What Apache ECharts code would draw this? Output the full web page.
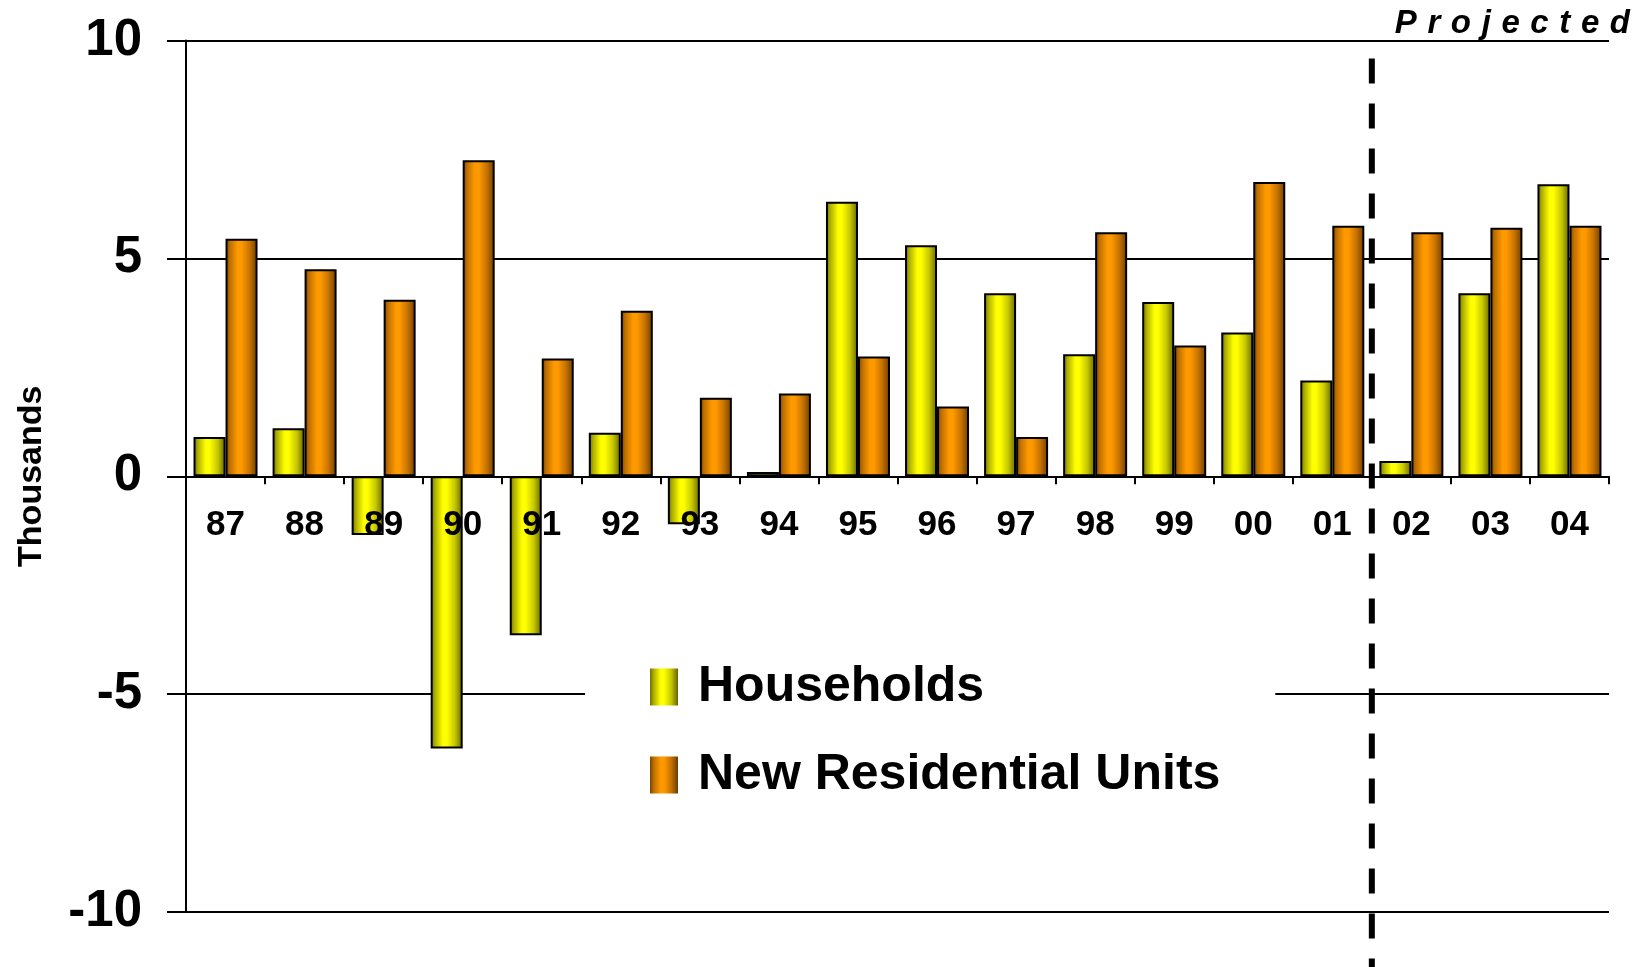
<!DOCTYPE html>
<html>
<head>
<meta charset="utf-8">
<title>Households vs New Residential Units</title>
<script src="https://cdn.jsdelivr.net/npm/echarts@6/dist/echarts.min.js"></script>
<style>
  html, body { margin: 0; padding: 0; background: #fff; }
  #chart { width: 1648px; height: 967px; }
</style>
</head>
<body>
<div id="chart"></div>
<script>
// Annual change, thousands
const years = ['87', '88', '89', '90', '91', '92', '93', '94', '95', '96', '97', '98', '99', '00', '01', '02', '03', '04'];
const households = [0.9, 1.1, -1.35, -6.25, -3.65, 1.0, -1.1, 0.1, 6.3, 5.3, 4.2, 2.8, 4.0, 3.3, 2.2, 0.35, 4.2, 6.7];
const newUnits = [5.45, 4.75, 4.05, 7.25, 2.7, 3.8, 1.8, 1.9, 2.75, 1.6, 0.9, 5.6, 3.0, 6.75, 5.75, 5.6, 5.7, 5.75];
const yTicks = { min: -10, max: 10, interval: 5 };
// First projected year: the divider sits on the boundary just before it
const firstProjected = '02';

const FONT = '"Liberation Sans", Arial, Helvetica, sans-serif';

function barGradient(dark, mid, bright, mid2, dark2) {
  return {
    type: 'linear', x: 0, y: 0, x2: 1, y2: 0,
    colorStops: [
      { offset: 0, color: dark },
      { offset: 0.14, color: mid },
      { offset: 0.38, color: bright },
      { offset: 0.5, color: bright },
      { offset: 0.75, color: mid2 },
      { offset: 1, color: dark2 }
    ]
  };
}
const yellowFill = barGradient('#6e6e00', '#b0b000', '#ffff00', '#c8c800', '#646400');
const orangeFill = barGradient('#7a4400', '#bf7000', '#ff9900', '#c77300', '#6b3c00');

// Widely spaced heading made of rich-text fragments
const word = 'Projected';
const projectedText = word.split('').map(c => '{l|' + c + '}').join('{g| }');

const chart = echarts.init(document.getElementById('chart'), null, { renderer: 'canvas' });

chart.setOption({
  backgroundColor: '#ffffff',
  animation: false,
  textStyle: { fontFamily: FONT },
  grid: { left: 186, right: 39, top: 40.5, bottom: 55, containLabel: false, outerBoundsMode: 'none' },
  legend: {
    orient: 'vertical',
    left: 585,
    top: 642,
    padding: [20, 55, 20, 65],
    backgroundColor: '#ffffff',
    icon: 'rect',
    itemWidth: 28,
    itemHeight: 37,
    itemGap: 38,
    itemStyle: { borderWidth: 0 },
    textStyle: {
      fontFamily: FONT, fontSize: 50, fontWeight: 'bold', color: '#000',
      lineHeight: 50, padding: [0, 0, 0, 15]
    },
    data: ['Households', 'New Residential Units']
  },
  xAxis: {
    type: 'category',
    data: years,
    z: 5,
    axisLine: { onZero: false, lineStyle: { color: '#000', width: 2 } },
    axisTick: { show: true, length: 8, inside: false, lineStyle: { color: '#000', width: 2 } },
    axisLabel: {
      margin: 32, fontFamily: FONT, fontSize: 35, fontWeight: 'bold', color: '#000', interval: 0
    },
    splitLine: { show: false }
  },
  yAxis: {
    type: 'value',
    min: yTicks.min,
    max: yTicks.max,
    interval: yTicks.interval,
    name: 'Thousands',
    nameLocation: 'middle',
    nameRotate: 90,
    nameGap: 137,
    nameTextStyle: { fontFamily: FONT, fontSize: 34, fontWeight: 'bold', color: '#000' },
    axisLine: { show: true, lineStyle: { color: '#000', width: 2 } },
    axisTick: { show: true, length: 19, inside: false, lineStyle: { color: '#000', width: 2 } },
    axisLabel: { margin: 44, fontFamily: FONT, fontSize: 51, fontWeight: 'bold', color: '#000' },
    splitLine: { show: true, lineStyle: { color: '#000', width: 2 } }
  },
  series: [
    {
      name: 'Households',
      type: 'bar',
      data: households,
      barWidth: 32,
      barGap: '0%',
      itemStyle: { color: yellowFill, borderColor: '#000', borderWidth: 2 }
    },
    {
      name: 'New Residential Units',
      type: 'bar',
      data: newUnits,
      barWidth: 32,
      barGap: '0%',
      itemStyle: { color: orangeFill, borderColor: '#000', borderWidth: 2 }
    }
  ]
});

// Lift the category axis (line, ticks and labels) up to the zero line
function placeCategoryAxisOnZero() {
  const yZero = chart.convertToPixel({ yAxisIndex: 0 }, 0);
  const yBottom = chart.convertToPixel({ yAxisIndex: 0 }, yTicks.min);
  chart.setOption({ xAxis: { offset: -(yBottom - yZero) } });
}

// Divider between actual and projected years, placed through the axis scales
function drawDivider() {
  const idx = years.indexOf(firstProjected);
  const xPrev = chart.convertToPixel({ xAxisIndex: 0 }, years[idx - 1]);
  const xNext = chart.convertToPixel({ xAxisIndex: 0 }, years[idx]);
  const xDiv = (xPrev + xNext) / 2;
  const yTop = chart.convertToPixel({ yAxisIndex: 0 }, yTicks.max);
  chart.setOption({
    graphic: [
      {
        type: 'line',
        z: 10,
        shape: { x1: xDiv, y1: yTop, x2: xDiv, y2: chart.getHeight() },
        style: { stroke: '#000', lineWidth: 6, lineDash: [25, 20], lineDashOffset: -18 }
      },
      {
        type: 'text',
        z: 10,
        right: 18,
        top: 7,
        style: {
          text: projectedText,
          rich: {
            l: { fontFamily: FONT, fontSize: 33, fontWeight: 'bold', fontStyle: 'italic', fill: '#000' },
            g: { fontFamily: FONT, fontSize: 33, width: 10.6 }
          }
        }
      }
    ]
  });
}
placeCategoryAxisOnZero();
drawDivider();
</script>
</body>
</html>
